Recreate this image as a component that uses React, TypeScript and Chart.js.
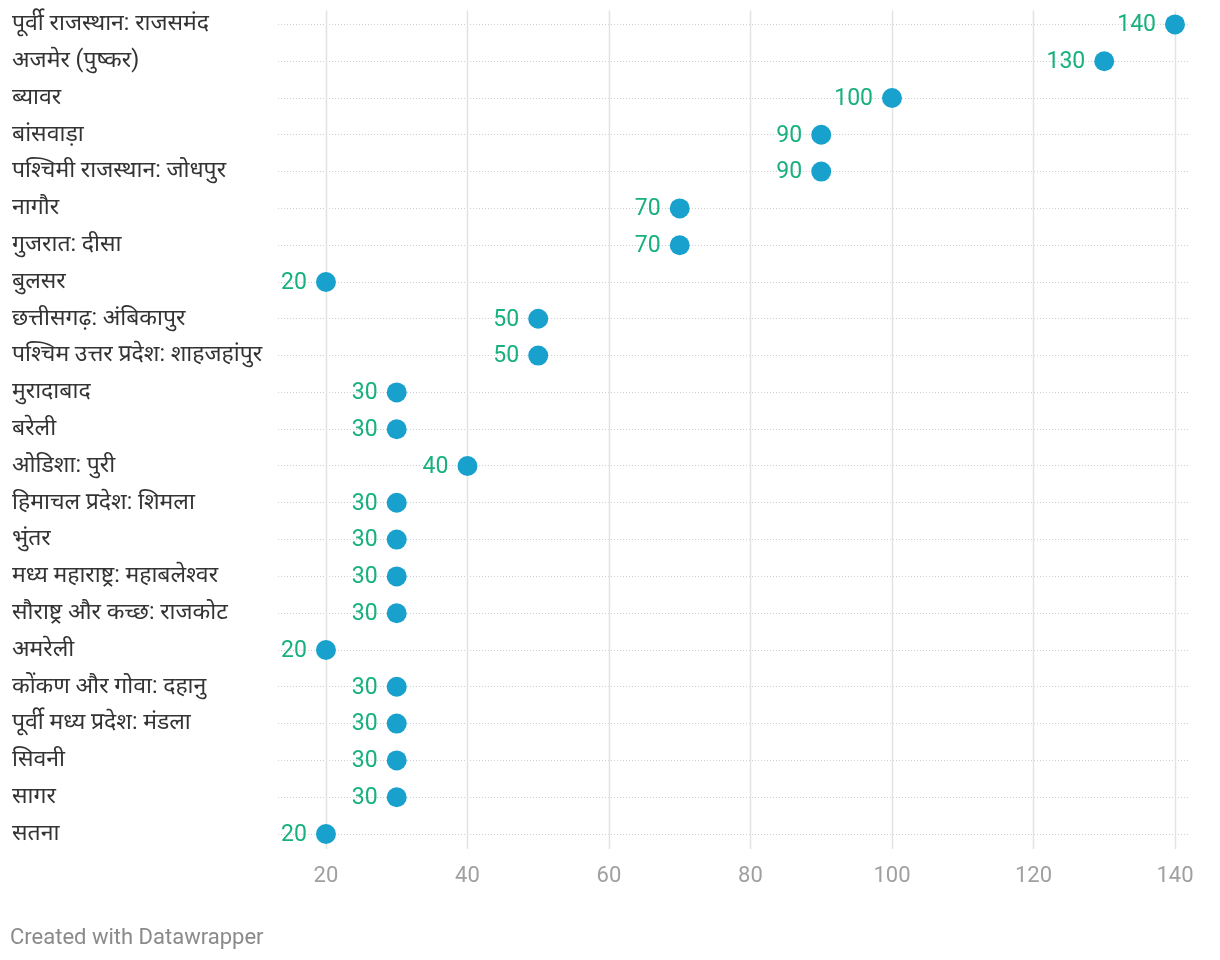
import React, { useEffect, useRef } from "react";
import { Chart, registerables } from "chart.js";

Chart.register(...registerables);

const categories = [
  "पूर्वी राजस्थान: राजसमंद",
  "अजमेर (पुष्कर)",
  "ब्यावर",
  "बांसवाड़ा",
  "पश्चिमी राजस्थान: जोधपुर",
  "नागौर",
  "गुजरात: दीसा",
  "बुलसर",
  "छत्तीसगढ़: अंबिकापुर",
  "पश्चिम उत्तर प्रदेश: शाहजहांपुर",
  "मुरादाबाद",
  "बरेली",
  "ओडिशा: पुरी",
  "हिमाचल प्रदेश: शिमला",
  "भुंतर",
  "मध्य महाराष्ट्र: महाबलेश्वर",
  "सौराष्ट्र और कच्छ: राजकोट",
  "अमरेली",
  "कोंकण और गोवा: दहानु",
  "पूर्वी मध्य प्रदेश: मंडला",
  "सिवनी",
  "सागर",
  "सतना",
];

const values = [140, 130, 100, 90, 90, 70, 70, 20, 50, 50, 30, 30, 40, 30, 30, 30, 30, 20, 30, 30, 30, 30, 20];

const xTicks = [20, 40, 60, 80, 100, 120, 140];

const DOT = "#18a1cd";
const LABEL = "#17b07e";
const FONT = "Roboto, 'Noto Sans', sans-serif";

const overlay = {
  id: "overlay",
  beforeDatasetsDraw(chart: any) {
    const ctx = chart.ctx;
    const x = chart.scales.x;
    const y = chart.scales.y;
    const top = y.getPixelForValue(0) - 14;
    const bottom = y.getPixelForValue(categories.length - 1) + 15;
    ctx.save();
    ctx.strokeStyle = "#e3e3e3";
    ctx.lineWidth = 1.5;
    xTicks.forEach((v) => {
      const px = Math.round(x.getPixelForValue(v)) + 0.5;
      ctx.beginPath();
      ctx.moveTo(px, top);
      ctx.lineTo(px, bottom);
      ctx.stroke();
    });
    ctx.restore();
  },
  afterDatasetsDraw(chart: any) {
    const ctx = chart.ctx;
    const meta = chart.getDatasetMeta(0);
    ctx.save();
    ctx.font = `23px ${FONT}`;
    ctx.fillStyle = LABEL;
    ctx.textAlign = "right";
    ctx.textBaseline = "middle";
    meta.data.forEach((pt: any, i: number) => {
      ctx.fillText(String(values[i]), pt.x - 19, pt.y + 1);
    });
    ctx.restore();
  },
};

export default function App() {
  const ref = useRef<HTMLCanvasElement | null>(null);
  useEffect(() => {
    if (!ref.current) return;
    const chart = new Chart(ref.current, {
      type: "line",
      data: {
        labels: categories,
        datasets: [
          {
            data: values,
            showLine: false,
            pointRadius: 10,
            pointHoverRadius: 10,
            pointBackgroundColor: DOT,
            pointBorderWidth: 0,
            borderColor: DOT,
          },
        ],
      },
      options: {
        indexAxis: "y",
        animation: false,
        responsive: false,
        maintainAspectRatio: false,
        layout: { padding: { left: 12, right: 32, top: 2.6, bottom: 63.6 } },
        plugins: { legend: { display: false }, tooltip: { enabled: false } },
        scales: {
          x: {
            type: "linear",
            min: 13.22,
            max: 141.84,
            afterBuildTicks: (scale: any) => {
              scale.ticks = xTicks.map((v) => ({ value: v }));
            },
            afterFit: (scale: any) => {
              scale.height = 40;
            },
            grid: { display: false },
            border: { display: false },
            ticks: {
              color: "#a0a0a0",
              font: { family: FONT, size: 22 },
              padding: 3,
            },
          },
          y: {
            type: "category",
            offset: true,
            afterFit: (scale: any) => {
              scale.width = 266;
            },
            grid: {
              offset: false,
              color: "#cfcfcf",
              lineWidth: 1,
              drawTicks: false,
            },
            border: { display: false, dash: [1, 2] },
            ticks: {
              color: "#333333",
              font: { family: FONT, size: 23, lineHeight: 0.1 },
              crossAlign: "far",
              padding: 0,
              autoSkip: false,
            },
          },
        },
      } as any,
      plugins: [overlay],
    });
    return () => chart.destroy();
  }, []);
  return (
    <div style={{ position: "absolute", left: 0, top: 0, width: 1220, height: 960, background: "#fff", overflow: "hidden" }}>
      <canvas
        ref={ref}
        width={1220}
        height={960}
        style={{ position: "absolute", left: 0, top: -4, width: 1220, height: 960, display: "block" }}
      />
      <div
        style={{
          position: "absolute",
          left: 10,
          top: 923,
          fontFamily: FONT,
          fontSize: 22,
          lineHeight: "28px",
          color: "#8a8a8a",
        }}
      >
        Created with Datawrapper
      </div>
    </div>
  );
}
